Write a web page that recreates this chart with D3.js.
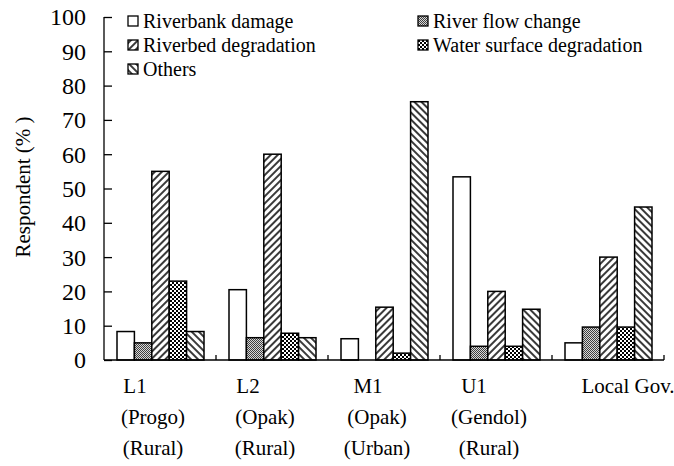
<!DOCTYPE html>
<html><head><meta charset="utf-8">
<script src="https://cdn.jsdelivr.net/npm/d3@7"></script>
<style>body{margin:0;background:#fff}svg{display:block}</style>
</head><body><svg id="c" width="674" height="466" style="font-family:'Liberation Serif','Times New Roman',serif"></svg>
<script>
const categories = ["L1", "L2", "M1", "U1", "Local Gov."];
const subLabels = [["(Progo)", "(Rural)"], ["(Opak)", "(Rural)"], ["(Opak)", "(Urban)"], ["(Gendol)", "(Rural)"], []];
const series = ["Riverbank damage", "River flow change", "Riverbed degradation", "Water surface degradation", "Others"];
const riverbankDamage = [8.3, 20.5, 6.2, 53.4, 5.0];
const riverFlowChange = [5.0, 6.5, 0, 4.0, 9.6];
const riverbedDegradation = [55.0, 60.0, 15.4, 20.0, 30.0];
const waterSurfaceDegradation = [23.0, 7.8, 2.0, 4.0, 9.6];
const others = [8.3, 6.5, 75.3, 14.8, 44.6];
const yTicks = [0, 10, 20, 30, 40, 50, 60, 70, 80, 90, 100];
const values = [riverbankDamage, riverFlowChange, riverbedDegradation, waterSurfaceDegradation, others];

const FONT = "'Liberation Serif','Times New Roman',serif";
const svg = d3.select("#c");
const defs = svg.append("defs");
let p = defs.append("pattern").attr("id", "p1").attr("patternUnits", "userSpaceOnUse").attr("width", 2).attr("height", 2);
p.append("rect").attr("width", 2).attr("height", 2).attr("fill", "#d8d8d8");
p.append("rect").attr("width", 1).attr("height", 1).attr("fill", "#404040");
p.append("rect").attr("x", 1).attr("y", 1).attr("width", 1).attr("height", 1).attr("fill", "#404040");
p = defs.append("pattern").attr("id", "p2").attr("patternUnits", "userSpaceOnUse").attr("width", 5).attr("height", 5).attr("patternTransform", "rotate(45)");
p.append("rect").attr("width", 5).attr("height", 5).attr("fill", "#fff");
p.append("rect").attr("width", 2).attr("height", 5).attr("fill", "#3a3a3a");
p = defs.append("pattern").attr("id", "p3").attr("patternUnits", "userSpaceOnUse").attr("width", 4).attr("height", 4);
p.append("rect").attr("width", 4).attr("height", 4).attr("fill", "#000");
p.append("rect").attr("x", 0).attr("y", 0).attr("width", 2).attr("height", 2).attr("fill", "#fff");
p.append("rect").attr("x", 2).attr("y", 2).attr("width", 2).attr("height", 2).attr("fill", "#fff");
p = defs.append("pattern").attr("id", "p4").attr("patternUnits", "userSpaceOnUse").attr("width", 5).attr("height", 5).attr("patternTransform", "rotate(-45)");
p.append("rect").attr("width", 5).attr("height", 5).attr("fill", "#fff");
p.append("rect").attr("width", 2).attr("height", 5).attr("fill", "#3a3a3a");
const fills = ["#fff", "url(#p1)", "url(#p2)", "url(#p3)", "url(#p4)"];

const x0 = d3.scaleBand().domain(categories).range([104, 664]).paddingInner(0).paddingOuter(0);
const x1 = d3.scaleBand().domain(series).range([13, 100]).padding(0);
const y = d3.scaleLinear().domain([0, 100]).range([360, 17]);

const txt = (sel) => sel.style("font-family", FONT).attr("fill", "#000");

const g = svg.append("g");
categories.forEach((c, i) => {
  series.forEach((s, j) => {
    const v = values[j][i];
    if (v <= 0) return;
    g.append("rect")
      .attr("x", x0(c) + x1(s))
      .attr("y", y(v))
      .attr("width", x1.bandwidth())
      .attr("height", y(0) - y(v))
      .attr("fill", fills[j])
      .attr("stroke", "#000").attr("stroke-width", 1.5);
  });
});

const ya = svg.append("g").attr("transform", "translate(104,0)")
  .call(d3.axisRight(y).tickValues(yTicks).tickSize(8).tickFormat(""));
ya.select(".domain").attr("stroke", "#000").attr("stroke-width", 1.3).attr("d", "M0," + y(100) + "V" + y(0));
ya.selectAll(".tick line").attr("stroke", "#000").attr("stroke-width", 1.3);
svg.append("g").selectAll("text").data(yTicks).join("text")
  .attr("x", 86).attr("y", d => y(d)).attr("dy", "0.35em")
  .attr("text-anchor", "end").attr("font-size", 24).call(txt).text(d => d);

const xa = svg.append("g").attr("transform", "translate(0," + y(0) + ")")
  .call(d3.axisTop(x0).tickSize(0).tickFormat(""));
xa.select(".domain").attr("stroke", "#000").attr("stroke-width", 1.3).attr("d", "M104,0H664");
xa.selectAll(".tick").remove();
svg.append("g").selectAll("line").data(categories).join("line")
  .attr("x1", d => x0(d) + x0.bandwidth()).attr("x2", d => x0(d) + x0.bandwidth())
  .attr("y1", y(0)).attr("y2", y(0) - 5).attr("stroke", "#000").attr("stroke-width", 1.3);

const line1Shift = [-25, -24, -16, -22, 20];
categories.forEach((c, i) => {
  const cx = x0(c) + x0.bandwidth() / 2;
  svg.append("text").attr("x", cx + line1Shift[i]).attr("y", 393).attr("text-anchor", "middle").attr("font-size", 21).call(txt).text(c);
  subLabels[i].forEach((t, k) => {
    svg.append("text").attr("x", cx - 7).attr("y", 424 + k * 31).attr("text-anchor", "middle").attr("font-size", 21).call(txt).text(t);
  });
});

svg.append("text").attr("transform", "translate(30,187) rotate(-90)").attr("text-anchor", "middle").attr("font-size", 21).call(txt).text("Respondent (% )");

const legendPos = [[128, 21], [418, 21], [128, 45], [418, 45], [128, 69]];
series.forEach((s, j) => {
  const [lx, ly] = legendPos[j];
  svg.append("rect").attr("x", lx).attr("y", ly - 5).attr("width", 10).attr("height", 10)
    .attr("fill", fills[j]).attr("stroke", "#000").attr("stroke-width", 1.3);
  svg.append("text").attr("x", lx + 15).attr("y", ly).attr("dy", "0.35em").attr("font-size", 20).call(txt).text(s);
});
</script></body></html>
